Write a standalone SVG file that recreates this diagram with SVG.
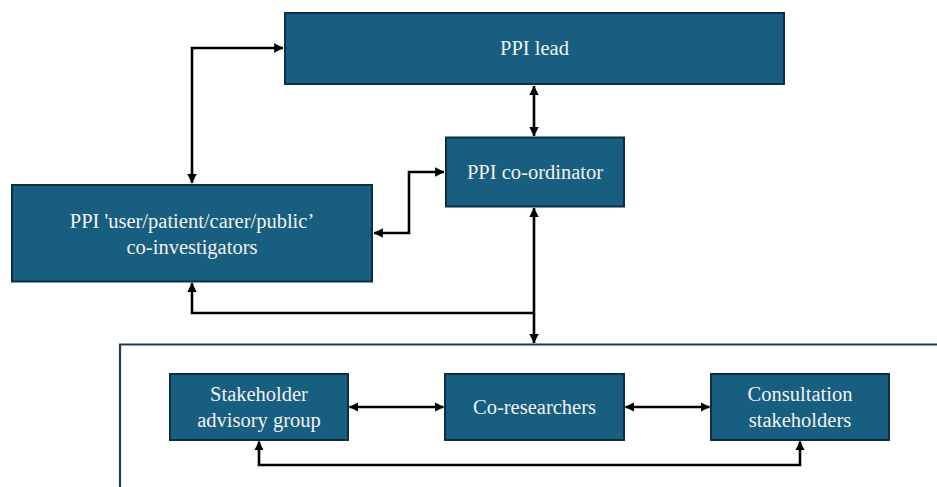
<svg xmlns="http://www.w3.org/2000/svg" width="937" height="487" viewBox="0 0 937 487">
<defs>
<style>
.box{fill:#175e80;stroke:#0d2f42;stroke-width:2}
.t{font-family:"Liberation Serif","Times New Roman",serif;font-size:20.5px;fill:#f2f2f2;text-anchor:middle}
.c{fill:none;stroke:#000;stroke-width:2.6}
.frame{fill:none;stroke:#1b3c52;stroke-width:2.2}
</style>
<marker id="ah" viewBox="0 0 10 10" refX="9.5" refY="5" markerWidth="3.6" markerHeight="3.6" orient="auto-start-reverse" markerUnits="strokeWidth">
<path d="M0,0 L10,5 L0,10 z" fill="#000"/>
</marker>
</defs>
<rect width="937" height="487" fill="#fff"/>
<path class="frame" d="M120,487 V344.5 H937"/>
<g id="connectors">
<path class="c" d="M192,183 V48 H283" marker-start="url(#ah)" marker-end="url(#ah)"/>
<path class="c" d="M534,86 V136" marker-start="url(#ah)" marker-end="url(#ah)"/>
<path class="c" d="M444,172 H409 V233 H374" marker-start="url(#ah)" marker-end="url(#ah)"/>
<path class="c" d="M534,208 V343" marker-start="url(#ah)" marker-end="url(#ah)"/>
<path class="c" d="M534,313 H192 V283" marker-end="url(#ah)"/>
<path class="c" d="M349.5,407 H443.5" marker-start="url(#ah)" marker-end="url(#ah)"/>
<path class="c" d="M625.5,407 H709.5" marker-start="url(#ah)" marker-end="url(#ah)"/>
<path class="c" d="M259,441.5 V465 H800 V441.5" marker-start="url(#ah)" marker-end="url(#ah)"/>
</g>
<g id="ppi-lead">
<rect class="box" x="285" y="13" width="499" height="71"/>
<text class="t" x="534.5" y="55">PPI lead</text>
</g>
<g id="ppi-coordinator">
<rect class="box" x="446" y="137.5" width="178" height="69"/>
<text class="t" x="535" y="179">PPI co-ordinator</text>
</g>
<g id="ppi-coinvestigators">
<rect class="box" x="12" y="185" width="360" height="96.5"/>
<text class="t" x="192" y="228">PPI 'user/patient/carer/public’</text>
<text class="t" x="192" y="254">co-investigators</text>
</g>
<g id="stakeholder-advisory">
<rect class="box" x="170" y="374" width="178" height="66"/>
<text class="t" x="259" y="401">Stakeholder</text>
<text class="t" x="259" y="427">advisory group</text>
</g>
<g id="co-researchers">
<rect class="box" x="445" y="374" width="179" height="66"/>
<text class="t" x="534.5" y="414">Co-researchers</text>
</g>
<g id="consultation">
<rect class="box" x="711" y="374" width="178" height="66"/>
<text class="t" x="800" y="401">Consultation</text>
<text class="t" x="800" y="427">stakeholders</text>
</g>
</svg>
